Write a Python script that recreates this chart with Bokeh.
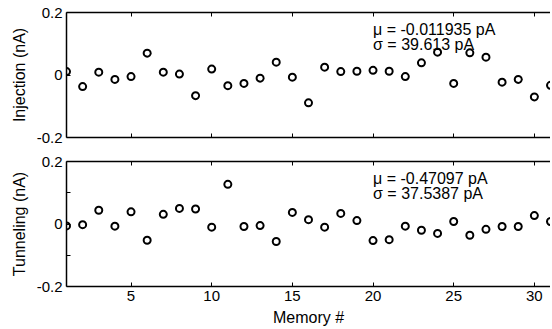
from bokeh.plotting import figure
from bokeh.models import FixedTicker, LinearAxis, Range1d
from bokeh.layouts import column
from bokeh.core.properties import value
from bokeh.embed import file_html
from bokeh.resources import INLINE

# ---- data ----
memory = list(range(1, 32))
injection = [0.011, -0.037, 0.009, -0.014, -0.005, 0.070, 0.009, 0.003, -0.066, 0.019,
             -0.034, -0.027, -0.010, 0.041, -0.007, -0.089, 0.025, 0.011, 0.012, 0.015,
             0.012, -0.005, 0.039, 0.073, -0.027, 0.071, 0.057, -0.023, -0.014, -0.070,
             -0.033]
tunneling = [-0.006, -0.002, 0.044, -0.007, 0.039, -0.052, 0.031, 0.050, 0.048, -0.010,
             0.127, -0.008, -0.005, -0.056, 0.037, 0.014, -0.010, 0.034, 0.011, -0.053,
             -0.050, -0.007, -0.020, -0.030, 0.008, -0.036, -0.017, -0.008, -0.008, 0.027,
             0.008]
injection_stats = ["\u03bc = -0.011935 pA", "\u03c3 = 39.613 pA"]
tunneling_stats = ["\u03bc = -0.47097 pA", "\u03c3 = 37.5387 pA"]
x_ticks = [5, 10, 15, 20, 25, 30]
top_y_ticks = [-0.2, 0, 0.2]
bottom_y_ticks = [-0.2, -0.1, 0, 0.1, 0.2]
y_tick_labels = {-0.2: "-0.2", -0.1: "", 0: "0", 0.1: "", 0.2: "0.2"}
x_label = "Memory #"
y_labels = ["Injection (nA)", "Tunneling (nA)"]

FONT = "Liberation Sans"
TICK_FS = "15px"
LABEL_FS = "16px"


def style_axis(ax, labels=True):
    ax.axis_line_color = "black"
    ax.axis_line_width = 1.5
    ax.major_tick_line_color = "black"
    ax.major_tick_line_width = 1
    ax.major_tick_in = 4
    ax.major_tick_out = 0
    ax.minor_tick_line_color = None
    ax.major_label_text_font = FONT
    ax.major_label_text_color = "black"
    ax.axis_label_text_font = FONT
    ax.axis_label_text_font_size = LABEL_FS
    ax.axis_label_text_font_style = "normal"
    ax.axis_label_text_color = "black"
    if labels:
        ax.major_label_text_font_size = TICK_FS
    else:
        ax.major_label_text_color = None
        ax.major_label_text_font_size = "1px"
        ax.major_label_standoff = 0


def make_panel(height, btop, bbot, ylabel, values, stats, yticks, show_xlabels):
    p = figure(width=550, height=height, x_range=Range1d(1, 31), y_range=Range1d(-0.2, 0.2),
               output_backend="svg", toolbar_location=None,
               min_border_left=66, min_border_right=0,
               min_border_top=btop, min_border_bottom=bbot)
    p.outline_line_color = None
    p.grid.visible = False
    p.background_fill_color = "white"
    p.border_fill_color = "white"

    xa = p.xaxis[0]
    xa.ticker = FixedTicker(ticks=x_ticks)
    style_axis(xa, labels=show_xlabels)
    if show_xlabels:
        xa.axis_label = x_label
        xa.major_label_standoff = 4
        xa.axis_label_standoff = 5

    ya = p.yaxis[0]
    ya.ticker = FixedTicker(ticks=yticks)
    ya.major_label_overrides = {t: y_tick_labels[t] for t in yticks}
    style_axis(ya)
    ya.axis_label = ylabel
    ya.major_label_standoff = 4
    ya.axis_label_standoff = 6

    top = LinearAxis(ticker=FixedTicker(ticks=x_ticks))
    style_axis(top, labels=False)
    p.add_layout(top, "above")

    p.scatter(memory, values, marker="circle", size=7, fill_color=None,
              line_color="black", line_width=2)
    p.text(x=[20, 20], y=[0.145, 0.098], text=stats, text_font=value(FONT),
           text_font_size=LABEL_FS, text_baseline="alphabetic", text_color="black")
    return p


p1 = make_panel(151, 12, 14, y_labels[0], injection, injection_stats, top_y_ticks, False)
p2 = make_panel(177, 10, 40, y_labels[1], tunneling, tunneling_stats, bottom_y_ticks, True)

layout = column(p1, p2, spacing=0)
open("out.html", "w").write(file_html(layout, INLINE))
